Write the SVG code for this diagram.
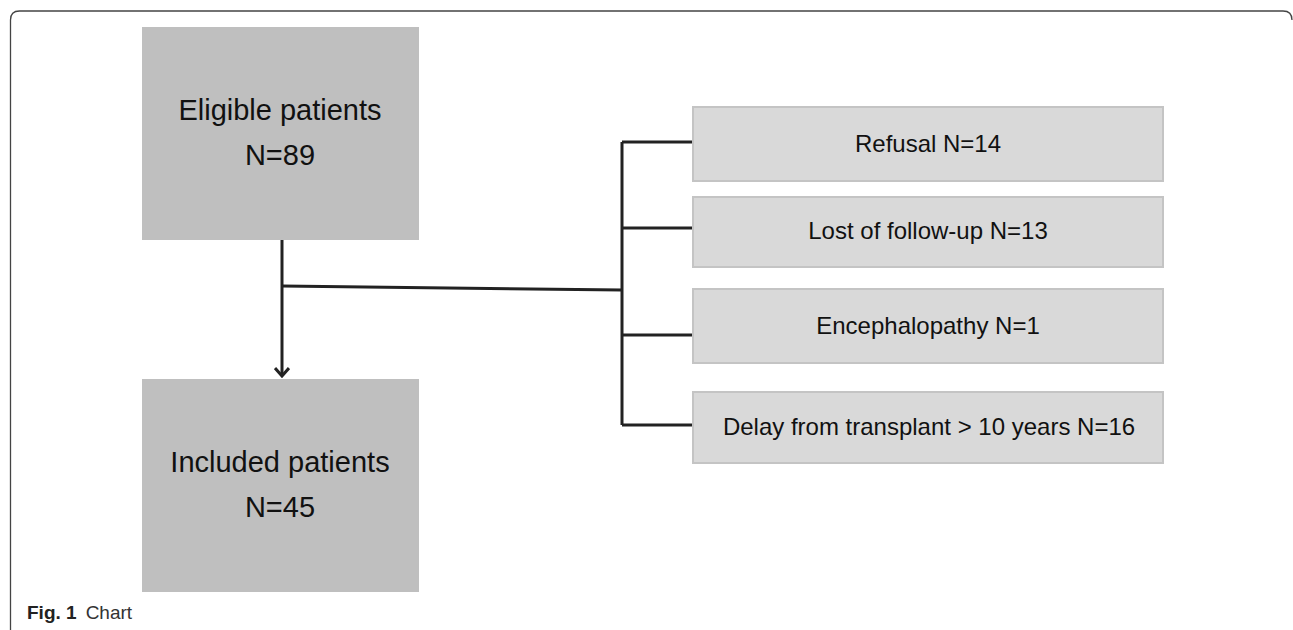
<svg xmlns="http://www.w3.org/2000/svg" width="1293" height="630" viewBox="0 0 1293 630">
<style>
.big{fill:#bfbfbf}
.small{fill:#d9d9d9;stroke:#c4c4c4;stroke-width:2}
.bt{font-family:"Liberation Sans",Arial,sans-serif;font-size:29px;fill:#111;text-anchor:middle}
.st{font-family:"Liberation Sans",Arial,sans-serif;font-size:24px;fill:#111;text-anchor:middle}
.ln{fill:none;stroke:#222;stroke-width:3}
.cap{font-family:"Liberation Sans",Arial,sans-serif;font-size:19px;fill:#333}
</style>
<defs>
<marker id="ah" markerWidth="12" markerHeight="16" refX="10" refY="8" orient="auto" markerUnits="userSpaceOnUse" viewBox="0 0 12 16">
<polyline points="2,1 10,8 2,15" fill="none" stroke="#222" stroke-width="3"/>
</marker>
</defs>
<rect width="1293" height="630" fill="#fff"/>
<path d="M10.5,630 V20 Q10.5,11 19.5,11 H1283 Q1292,11 1292,20" fill="none" stroke="#444" stroke-width="1.3"/>
<g id="connectors">
<path class="ln" d="M282,240 V376" marker-end="url(#ah)"/>
<path class="ln" d="M282,286 L622,290"/>
<path class="ln" d="M622,142 V425"/>
<path class="ln" d="M622,142 H693"/>
<path class="ln" d="M622,228 H693"/>
<path class="ln" d="M622,335 H693"/>
<path class="ln" d="M622,425 H693"/>
</g>
<g id="eligible">
<rect class="big" x="142" y="27" width="277" height="213"/>
<text class="bt" x="280" y="120">Eligible patients</text>
<text class="bt" x="280" y="165">N=89</text>
</g>
<g id="included">
<rect class="big" x="142" y="379" width="277" height="213"/>
<text class="bt" x="280" y="472">Included patients</text>
<text class="bt" x="280" y="517">N=45</text>
</g>
<g id="refusal">
<rect class="small" x="693" y="107" width="470" height="74"/>
<text class="st" x="928" y="152">Refusal N=14</text>
</g>
<g id="lost">
<rect class="small" x="693" y="197" width="470" height="70"/>
<text class="st" x="928" y="239">Lost of follow-up N=13</text>
</g>
<g id="encephalopathy">
<rect class="small" x="693" y="289" width="470" height="74"/>
<text class="st" x="928" y="334">Encephalopathy N=1</text>
</g>
<g id="delay">
<rect class="small" x="693" y="392" width="470" height="71"/>
<text class="st" x="929" y="435">Delay from transplant &gt; 10 years N=16</text>
</g>
<text class="cap" x="27" y="619"><tspan font-weight="bold" fill="#222">Fig. 1</tspan><tspan dx="9">Chart</tspan></text>
</svg>
